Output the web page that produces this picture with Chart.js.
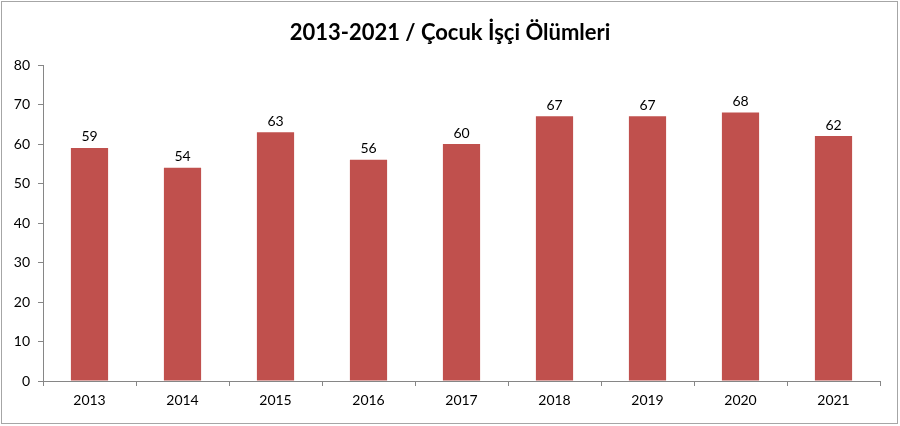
<!DOCTYPE html>
<html>
<head>
<meta charset="utf-8">
<script src="https://cdn.jsdelivr.net/npm/chart.js@4"></script>
<style>
  html, body { margin: 0; padding: 0; background: #fff; }
</style>
</head>
<body>
<canvas id="deathsChart" width="900" height="426"></canvas>
<script>
const chartTitle = '2013-2021 / Çocuk İşçi Ölümleri';
const years = ['2013', '2014', '2015', '2016', '2017', '2018', '2019', '2020', '2021'];
const deaths = [59, 54, 63, 56, 60, 67, 67, 68, 62];
const yTicks = [0, 10, 20, 30, 40, 50, 60, 70, 80];

const fontFamily = 'Lato, "Open Sans", sans-serif';
const axisColor = '#868686';

// value labels above each bar
const barLabels = {
    id: 'barLabels',
    afterDatasetsDraw(chart) {
        const ctx = chart.ctx;
        const meta = chart.getDatasetMeta(0);
        ctx.save();
        ctx.font = '14px ' + fontFamily;
        ctx.fillStyle = '#000';
        ctx.textAlign = 'center';
        ctx.textBaseline = 'bottom';
        meta.data.forEach((bar, i) => {
            ctx.fillText(deaths[i], bar.x, bar.y - 4);
        });
        ctx.restore();
    }
};

// title centred on the whole picture, plus the outer frame
const frame = {
    id: 'frame',
    afterDraw(chart) {
        const ctx = chart.ctx;
        ctx.save();
        ctx.font = 'bold 22px ' + fontFamily;
        ctx.fillStyle = '#000';
        ctx.textAlign = 'center';
        ctx.textBaseline = 'middle';
        ctx.fillText(chartTitle, chart.width / 2, 33);
        ctx.strokeStyle = '#a6a6a6';
        ctx.lineWidth = 1;
        ctx.strokeRect(1.5, 1.5, chart.width - 4, chart.height - 4);
        ctx.restore();
    }
};

new Chart(document.getElementById('deathsChart').getContext('2d'), {
    type: 'bar',
    data: {
        labels: years,
        datasets: [{
            data: deaths,
            backgroundColor: '#c0504d',
            borderWidth: 0,
            categoryPercentage: 1,
            barPercentage: 0.4
        }]
    },
    options: {
        responsive: false,
        animation: false,
        layout: { padding: { left: 0, right: 20, top: 65, bottom: 12 } },
        scales: {
            y: {
                min: 0,
                max: 80,
                afterFit(scale) { scale.width = 43; },
                afterBuildTicks(scale) { scale.ticks = yTicks.map(v => ({ value: v })); },
                ticks: { color: '#000', padding: 8, font: { family: fontFamily, size: 14 } },
                grid: { drawOnChartArea: false, tickLength: 5, color: axisColor },
                border: { color: axisColor }
            },
            x: {
                afterFit(scale) { scale.height = 33; },
                ticks: { color: '#000', padding: 6, font: { family: fontFamily, size: 14 } },
                grid: { offset: true, drawOnChartArea: false, tickLength: 5, color: axisColor },
                border: { color: axisColor }
            }
        },
        plugins: {
            legend: { display: false },
            tooltip: { enabled: false },
            title: { display: false }
        }
    },
    plugins: [barLabels, frame]
});
</script>
</body>
</html>
